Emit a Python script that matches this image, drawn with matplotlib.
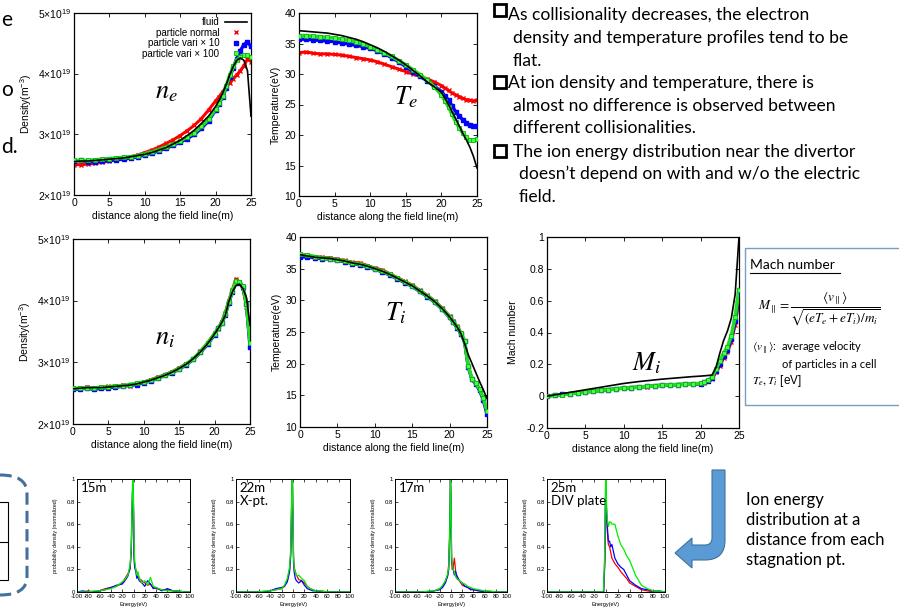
import numpy as np
import matplotlib
matplotlib.use("Agg")
import matplotlib.pyplot as plt
from matplotlib.path import Path
from matplotlib.patches import PathPatch, Rectangle, FancyBboxPatch
from matplotlib.lines import Line2D

plt.rcParams['font.family'] = ['Liberation Sans', 'DejaVu Sans']
plt.rcParams['mathtext.fontset'] = 'stix'
plt.rcParams['axes.unicode_minus'] = False

W, H = 899, 607

# distance along the field line (m)
x_prof = [0, 1, 2, 3, 4, 5, 6, 7, 8, 9, 10, 11, 12, 13, 14, 15, 16, 17, 18, 19,
          20, 20.5, 21, 21.5, 22, 22.5, 23, 23.5, 24, 24.5, 25]

# electron density (1e19 m^-3)
ne_fluid = [2.55, 2.56, 2.56, 2.57, 2.58, 2.59, 2.6, 2.61, 2.63, 2.65, 2.67, 2.7, 2.74, 2.78, 2.84, 2.9,
            2.98, 3.07, 3.18, 3.3, 3.46, 3.56, 3.68, 3.82, 3.98, 4.12, 4.22, 4.26, 4.22, 4.05, 3.3]
ne_normal = [2.5, 2.5, 2.51, 2.52, 2.54, 2.56, 2.58, 2.61, 2.63, 2.66, 2.7, 2.74, 2.79, 2.85, 2.91, 2.98,
             3.06, 3.15, 3.26, 3.4, 3.55, 3.62, 3.7, 3.78, 3.85, 3.92, 3.98, 4.05, 4.13, 4.24, 4.2]
ne_x10 = [2.56, 2.57, 2.55, 2.55, 2.56, 2.57, 2.58, 2.59, 2.61, 2.63, 2.66, 2.69, 2.73, 2.77, 2.82, 2.87,
          2.93, 3.0, 3.1, 3.22, 3.4, 3.5, 3.62, 3.77, 3.94, 4.1, 4.25, 4.38, 4.48, 4.52, 4.45]
ne_x100 = [2.57, 2.57, 2.57, 2.58, 2.59, 2.6, 2.61, 2.62, 2.63, 2.65, 2.68, 2.71, 2.75, 2.79, 2.84, 2.89,
           2.96, 3.03, 3.13, 3.25, 3.42, 3.52, 3.64, 3.8, 3.97, 4.12, 4.22, 4.28, 4.3, 4.3, 4.27]

# electron temperature (eV)
Te_fluid = [37.1, 37.0, 36.9, 36.8, 36.7, 36.5, 36.3, 36.0, 35.7, 35.3, 34.8, 34.3, 33.7, 33.0, 32.3, 31.5,
            30.6, 29.7, 28.7, 27.9, 27.0, 26.0, 25.0, 23.8, 22.7, 21.5, 20.3, 19.2, 18.0, 16.5, 14.6]
Te_normal = [33.5, 33.6, 33.4, 33.3, 33.3, 33.2, 33.1, 32.9, 32.7, 32.5, 32.3, 32.0, 31.6, 31.2, 30.8, 30.4,
             30.0, 29.6, 29.2, 28.7, 28.1, 27.7, 27.3, 26.9, 26.6, 26.3, 26.0, 25.8, 25.7, 25.6, 25.7]
Te_x10 = [35.7, 35.7, 35.6, 35.5, 35.4, 35.3, 35.1, 34.9, 34.7, 34.5, 34.2, 33.8, 33.3, 32.7, 32.0, 31.2,
          30.4, 29.6, 28.9, 28.0, 27.1, 26.4, 25.7, 24.8, 23.8, 23.1, 22.5, 22.0, 21.6, 21.4, 21.4]
Te_x100 = [36.3, 36.3, 36.2, 36.1, 36.0, 35.9, 35.7, 35.5, 35.3, 34.9, 34.5, 34.0, 33.5, 32.9, 32.2, 31.5,
           30.7, 29.9, 29.0, 27.9, 26.6, 25.6, 24.6, 23.4, 22.2, 21.2, 20.3, 19.6, 19.1, 19.1, 19.3]

# ion density (1e19 m^-3)
ni_fluid = [2.57, 2.58, 2.59, 2.59, 2.59, 2.6, 2.61, 2.62, 2.63, 2.65, 2.68, 2.71, 2.75, 2.79, 2.84, 2.9,
            2.97, 3.06, 3.17, 3.3, 3.46, 3.55, 3.64, 3.76, 3.98, 4.14, 4.24, 4.27, 4.2, 4.05, 3.6]
ni_normal = [2.56, 2.58, 2.6, 2.57, 2.59, 2.61, 2.6, 2.63, 2.62, 2.66, 2.68, 2.72, 2.76, 2.8, 2.85, 2.91,
             2.98, 3.05, 3.18, 3.31, 3.47, 3.54, 3.66, 3.8, 4.0, 4.17, 4.35, 4.3, 4.2, 3.9, 3.3]
ni_x10 = [2.56, 2.57, 2.58, 2.56, 2.58, 2.59, 2.6, 2.61, 2.63, 2.64, 2.67, 2.7, 2.74, 2.79, 2.83, 2.89,
          2.96, 3.05, 3.16, 3.29, 3.45, 3.55, 3.63, 3.77, 3.96, 4.14, 4.3, 4.29, 4.22, 3.95, 3.25]
ni_x100 = [2.58, 2.58, 2.59, 2.58, 2.6, 2.6, 2.62, 2.62, 2.64, 2.66, 2.68, 2.71, 2.75, 2.79, 2.84, 2.9,
           2.97, 3.06, 3.17, 3.31, 3.46, 3.56, 3.64, 3.78, 3.98, 4.15, 4.32, 4.31, 4.23, 3.95, 3.32]

# ion temperature (eV)
Ti_fluid = [37.2, 37.0, 36.8, 36.7, 36.6, 36.4, 36.2, 35.9, 35.7, 35.4, 35.0, 34.6, 34.1, 33.5, 32.9, 32.3,
            31.5, 30.7, 29.8, 28.7, 27.4, 26.6, 25.8, 24.8, 23.2, 21.4, 20.0, 18.6, 17.2, 15.9, 14.5]
Ti_normal = [37.0, 37.1, 36.9, 36.8, 36.7, 36.5, 36.3, 36.0, 35.9, 35.5, 35.1, 34.8, 34.2, 33.6, 33.0, 32.4,
             31.6, 30.8, 29.9, 28.8, 27.5, 26.7, 25.9, 24.9, 23.5, 19.5, 17.5, 16.8, 15.9, 14.4, 12.3]
Ti_x10 = [36.8, 36.9, 36.7, 36.6, 36.5, 36.3, 36.1, 35.8, 35.6, 35.3, 34.9, 34.5, 34.0, 33.4, 32.8, 32.2,
          31.4, 30.6, 29.7, 28.6, 27.3, 26.5, 25.7, 24.7, 23.5, 19.4, 17.5, 16.8, 15.8, 14.3, 12.0]
Ti_x100 = [37.3, 37.1, 36.9, 36.7, 36.6, 36.4, 36.2, 35.9, 35.7, 35.4, 35.0, 34.6, 34.1, 33.5, 32.9, 32.3,
           31.5, 30.7, 29.8, 28.7, 27.4, 26.6, 25.8, 24.8, 23.6, 19.6, 17.6, 16.9, 16.0, 14.6, 12.5]

# Mach number
Mi_fluid = [0.0, 0.008, 0.016, 0.024, 0.032, 0.04, 0.048, 0.056, 0.064, 0.072, 0.08, 0.086, 0.092, 0.097,
            0.102, 0.107, 0.111, 0.115, 0.119, 0.123, 0.126, 0.128, 0.13, 0.133, 0.18, 0.27, 0.35, 0.41,
            0.49, 0.64, 1.0]
Mi_normal = [0.0, 0.006, 0.01, 0.016, 0.02, 0.026, 0.03, 0.036, 0.04, 0.046, 0.05, 0.053, 0.056, 0.06, 0.064,
             0.068, 0.07, 0.072, 0.074, 0.075, 0.075, 0.085, 0.095, 0.11, 0.15, 0.19, 0.24, 0.28, 0.34,
             0.45, 0.61]
Mi_x10 = [0.0, 0.006, 0.011, 0.016, 0.021, 0.027, 0.031, 0.036, 0.041, 0.046, 0.051, 0.054, 0.057, 0.061,
          0.065, 0.069, 0.071, 0.073, 0.075, 0.077, 0.079, 0.088, 0.098, 0.115, 0.16, 0.2, 0.25, 0.29, 0.36,
          0.47, 0.64]
Mi_x100 = [0.0, 0.005, 0.01, 0.015, 0.021, 0.027, 0.031, 0.036, 0.041, 0.046, 0.051, 0.054, 0.057, 0.061,
           0.065, 0.069, 0.071, 0.073, 0.075, 0.077, 0.08, 0.09, 0.1, 0.12, 0.17, 0.22, 0.27, 0.31, 0.38,
           0.5, 0.67]

# ion energy distributions (normalized)
E = [-100, -90, -80, -70, -60, -50, -40, -30, -20, -15, -10, -6, -4, -2, -1, 0, 1, 2, 4, 6, 8, 10,
     15, 20, 25, 30, 35, 40, 50, 60, 70, 80, 90, 100]
f15_normal = [0, 0, 0.01, 0, 0.01, 0.03, 0.04, 0.05, 0.08, 0.12, 0.16, 0.2, 0.35, 0.8, 1.0, 0.7, 0.35, 0.25,
              0.2, 0.17, 0.15, 0.12, 0.1, 0.08, 0.06, 0.07, 0.04, 0.03, 0.02, 0.02, 0.01, 0, 0, 0]
f15_x10 = [0, 0.01, 0, 0, 0.01, 0.02, 0.04, 0.06, 0.07, 0.1, 0.14, 0.22, 0.38, 0.85, 1.0, 0.75, 0.3, 0.22,
           0.18, 0.12, 0.14, 0.1, 0.08, 0.05, 0.1, 0.07, 0.03, 0.04, 0.01, 0.03, 0.01, 0.01, 0, 0]
f15_x100 = [0, 0, 0, 0.01, 0.01, 0.02, 0.03, 0.05, 0.09, 0.11, 0.15, 0.24, 0.4, 0.9, 1.05, 0.8, 0.45, 0.28,
            0.2, 0.15, 0.18, 0.12, 0.08, 0.1, 0.06, 0.13, 0.05, 0.04, 0.02, 0.01, 0.01, 0.01, 0, 0]
f22_normal = [0, 0, 0, 0, 0, 0, 0.01, 0.02, 0.03, 0.05, 0.1, 0.2, 0.35, 0.9, 1.0, 0.6, 0.3, 0.22, 0.18,
              0.15, 0.13, 0.11, 0.1, 0.08, 0.05, 0.03, 0.02, 0.01, 0.01, 0, 0, 0, 0, 0]
f22_x10 = [0, 0, 0, 0, 0, 0, 0.01, 0.03, 0.04, 0.05, 0.09, 0.18, 0.32, 0.85, 1.0, 0.55, 0.25, 0.18, 0.12,
           0.1, 0.09, 0.08, 0.1, 0.06, 0.03, 0.02, 0.01, 0.01, 0, 0, 0, 0, 0, 0]
f22_x100 = [0, 0, 0, 0, 0, 0.01, 0.01, 0.02, 0.03, 0.06, 0.12, 0.22, 0.38, 0.95, 1.05, 0.65, 0.3, 0.22,
            0.17, 0.15, 0.14, 0.15, 0.12, 0.1, 0.05, 0.03, 0.02, 0.01, 0.01, 0, 0, 0, 0, 0]
f17_normal = [0, 0, 0, 0, 0, 0, 0, 0.01, 0.03, 0.05, 0.1, 0.15, 0.25, 0.6, 1.0, 0.8, 0.3, 0.2, 0.22, 0.3,
              0.2, 0.12, 0.1, 0.06, 0.05, 0.04, 0.03, 0.02, 0.01, 0.01, 0, 0, 0, 0]
f17_x10 = [0, 0, 0, 0, 0, 0, 0, 0.01, 0.02, 0.04, 0.08, 0.14, 0.2, 0.55, 1.0, 0.85, 0.28, 0.25, 0.2, 0.15,
           0.18, 0.15, 0.1, 0.08, 0.05, 0.04, 0.02, 0.02, 0.01, 0, 0, 0, 0, 0]
f17_x100 = [0, 0, 0, 0, 0, 0, 0.01, 0.01, 0.03, 0.06, 0.1, 0.16, 0.22, 0.6, 1.0, 0.9, 0.35, 0.25, 0.2,
            0.18, 0.14, 0.12, 0.1, 0.08, 0.07, 0.05, 0.04, 0.03, 0.02, 0.01, 0.01, 0, 0, 0]
f25_normal = [0, 0, 0, 0, 0, 0, 0, 0, 0, 0, 0, 0, 0, 0.25, 0.7, 0.9, 0.7, 0.55, 0.42, 0.4, 0.35, 0.3,
              0.25, 0.22, 0.18, 0.15, 0.12, 0.08, 0.05, 0.02, 0.01, 0, 0, 0]
f25_x10 = [0, 0, 0, 0, 0, 0, 0, 0, 0, 0, 0, 0, 0, 0.3, 0.8, 0.95, 0.7, 0.6, 0.45, 0.45, 0.4, 0.42,
           0.3, 0.25, 0.22, 0.2, 0.15, 0.1, 0.06, 0.03, 0.02, 0.01, 0.01, 0]
f25_x100 = [0, 0, 0, 0, 0, 0, 0, 0, 0, 0, 0, 0, 0.02, 0.4, 0.9, 1.05, 0.75, 0.65, 0.58, 0.62, 0.62, 0.6,
            0.6, 0.5, 0.42, 0.38, 0.32, 0.28, 0.15, 0.06, 0.03, 0.01, 0.01, 0]

fig = plt.figure(figsize=(W / 100, H / 100), dpi=100)


def box(l, t, r, b):
    return fig.add_axes([l / W, 1 - b / H, (r - l) / W, (b - t) / H])


def style(ax, fs=7.5):
    ax.tick_params(direction='in', top=True, right=True, length=3, width=0.6, labelsize=fs, pad=2)
    for s in ax.spines.values():
        s.set_linewidth(0.9)


def profile(ax, fluid, normal, x10, x100):
    ax.plot(x_prof, fluid, color='black', lw=1.2, zorder=5)
    ax.plot(x_prof, normal, color='red', lw=2.2, marker='x', ms=2.5, mew=1, zorder=2)
    ax.plot(x_prof, x10, color='blue', lw=2.4, marker='s', ms=2.5, zorder=3)
    ax.plot(x_prof, x100, color='#22dd22', lw=2.6, marker='s', ms=3, mfc='#44ff44',
            mec='#10b010', mew=0.6, zorder=4)
    ax.set_xlim(0, 25)
    ax.set_xticks([0, 5, 10, 15, 20, 25])
    ax.set_xlabel('distance along the field line(m)', fontsize=7.5, labelpad=2)
    style(ax)


def sci(v):
    return '%d\u00d710$^{\\mathregular{19}}$' % v


# n_e
ax = box(74, 13, 251, 195)
profile(ax, ne_fluid, ne_normal, ne_x10, ne_x100)
ax.set_ylim(2, 5)
ax.set_yticks([2, 3, 4, 5])
ax.set_yticklabels([sci(v) for v in [2, 3, 4, 5]])
ax.set_ylabel('Density(m$^{\\mathregular{-3}}$)', fontsize=7.5, labelpad=3)
ax.text(0.52, 0.53, r'$n_e$', transform=ax.transAxes, fontsize=19, ha='center')
hl = [Line2D([], [], color='black', lw=1.2),
      Line2D([], [], color='red', ls='none', marker='x', ms=2.5, mew=1),
      Line2D([], [], color='blue', ls='none', marker='s', ms=2.5),
      Line2D([], [], color='#22dd22', ls='none', marker='s', ms=3, mfc='#44ff44', mec='#10b010', mew=0.6)]
ax.legend(hl, ['fluid', 'particle normal', 'particle vari \u00d7 10', 'particle vari \u00d7 100'],
          loc='upper right', markerfirst=False, frameon=False, fontsize=7, handlelength=2.2,
          labelspacing=0.05, borderaxespad=0.05, handletextpad=0.6)

# T_e
ax = box(299, 13, 477, 196)
profile(ax, Te_fluid, Te_normal, Te_x10, Te_x100)
ax.set_ylim(10, 40)
ax.set_ylabel('Temperature(eV)', fontsize=7.5, labelpad=3)
ax.text(0.6, 0.5, r'$T_e$', transform=ax.transAxes, fontsize=19, ha='center')

# n_i
ax = box(73, 239, 250, 424)
profile(ax, ni_fluid, ni_normal, ni_x10, ni_x100)
ax.set_ylim(2, 5)
ax.set_yticks([2, 3, 4, 5])
ax.set_yticklabels([sci(v) for v in [2, 3, 4, 5]])
ax.set_ylabel('Density(m$^{\\mathregular{-3}}$)', fontsize=7.5, labelpad=3)
ax.text(0.52, 0.43, r'$n_i$', transform=ax.transAxes, fontsize=19, ha='center')

# T_i
ax = box(300, 237, 487, 427)
profile(ax, Ti_fluid, Ti_normal, Ti_x10, Ti_x100)
ax.set_ylim(10, 40)
ax.set_ylabel('Temperature(eV)', fontsize=7.5, labelpad=3)
ax.text(0.51, 0.56, r'$T_i$', transform=ax.transAxes, fontsize=19, ha='center')

# M_i
ax = box(547, 237, 739, 428)
profile(ax, Mi_fluid, Mi_normal, Mi_x10, Mi_x100)
ax.set_ylim(-0.2, 1)
ax.set_yticks([-0.2, 0, 0.2, 0.4, 0.6, 0.8, 1])
ax.set_yticklabels(['-0.2', '0', '0.2', '0.4', '0.6', '0.8', '1'])
ax.set_ylabel('Mach number', fontsize=7.5, labelpad=6)
ax.text(0.52, 0.3, r'$M_i$', transform=ax.transAxes, fontsize=19, ha='center')

# ion energy distributions
panels = [((77, 479, 190, 592), f15_normal, f15_x10, f15_x100, '15m'),
          ((236, 479, 350, 592), f22_normal, f22_x10, f22_x100, '22m\nX-pt.'),
          ((395, 479, 507, 592), f17_normal, f17_x10, f17_x100, '17m'),
          ((547, 479, 665, 592), f25_normal, f25_x10, f25_x100, '25m\nDIV plate')]
for (l, t, r, b), fr, fb, fg, name in panels:
    ax = box(l, t, r, b)
    ax.plot(E, fr, color='red', lw=0.9)
    ax.plot(E, fb, color='blue', lw=0.9)
    ax.plot(E, fg, color='#00ee00', lw=0.9)
    ax.set_xlim(-100, 100)
    ax.set_ylim(0, 1)
    ax.set_xticks([-100, -80, -60, -40, -20, 0, 20, 40, 60, 80, 100])
    ax.set_yticks([0, 0.2, 0.4, 0.6, 0.8, 1])
    ax.set_yticklabels(['0', '0.2', '0.4', '0.6', '0.8', '1'])
    ax.tick_params(direction='in', top=True, right=True, length=2, width=0.5, labelsize=4.3, pad=1.5)
    for s in ax.spines.values():
        s.set_linewidth(0.7)
    ax.set_ylabel('probability density (normalized)', fontsize=3.8, labelpad=6)
    ax.set_xlabel('Energy(eV)', fontsize=4, labelpad=2)
    ax.text(0.03, 0.97, name, transform=ax.transAxes, va='top', ha='left', fontsize=9.5,
            family='Lato', linespacing=1.1)

# bullet text
lines = [(508, 15, 'As collisionality decreases, the electron'),
         (513, 38, 'density and temperature profiles tend to be'),
         (513, 61, 'flat.'),
         (508, 83, 'At ion density and temperature, there is'),
         (513, 106, 'almost no difference is observed between'),
         (513, 128, 'different collisionalities.'),
         (513, 152, 'The ion energy distribution near the divertor'),
         (519, 174, 'doesn\u2019t depend on with and w/o the electric'),
         (519, 197, 'field.')]
for x, y, s in lines:
    fig.text(x / W, 1 - y / H, s, fontsize=12.6, family='Lato', va='center', ha='left')
for y in [10, 82, 151]:
    fig.patches.append(Rectangle((494 / W, 1 - (y + 6) / H), 12 / W, 12 / H, transform=fig.transFigure,
                                 fill=False, lw=2, ec='black'))

# partial text at left edge
for y, s in [(20, 'e'), (90, 'o'), (147, 'd.')]:
    fig.text(1 / W, 1 - y / H, s, fontsize=15, family='Lato', ha='left', va='center')

# Mach number box
fig.patches.append(Rectangle((745 / W, 1 - 405 / H), 160 / W, 157 / H, transform=fig.transFigure,
                             fill=False, lw=1, ec='#7a9cc0'))
fig.text(750 / W, 1 - 265 / H, 'Mach number', fontsize=10, family='Lato', va='center')
fig.lines.append(Line2D([750 / W, 840 / W], [1 - 273 / H, 1 - 273 / H], transform=fig.transFigure,
                        color='black', lw=0.8))
fig.text(819 / W, 1 - 309 / H,
         r'$M_\parallel = \dfrac{\langle v_\parallel\rangle}{\sqrt{(eT_e+eT_i)/m_i}}$',
         fontsize=9.5, ha='center', va='center')
fig.text(752 / W, 1 - 347 / H, r'$\langle v_\parallel\rangle$:  average velocity', fontsize=8,
         family='Lato', va='center')
fig.text(782 / W, 1 - 364 / H, 'of particles in a cell', fontsize=8, family='Lato', va='center')
fig.text(752 / W, 1 - 381 / H, r'$T_e, T_i$ [eV]', fontsize=8.5, va='center')

# bent arrow
pts = [(712, 470), (725, 470), (725, 540), (725, 560), (705, 560), (692, 560), (692, 568), (675, 553),
       (692, 538), (692, 545), (705, 545), (712, 545), (712, 538), (712, 470)]
codes = [Path.MOVETO, Path.LINETO, Path.LINETO, Path.CURVE3, Path.CURVE3, Path.LINETO, Path.LINETO,
         Path.LINETO, Path.LINETO, Path.LINETO, Path.LINETO, Path.CURVE3, Path.CURVE3, Path.CLOSEPOLY]
verts = [(px / W, 1 - py / H) for px, py in pts]
fig.patches.append(PathPatch(Path(verts, codes), transform=fig.transFigure, fc='#5b9bd5', ec='#41719c',
                             lw=0.8))
fig.text(746 / W, 1 - 492 / H, 'Ion energy\ndistribution at a\ndistance from each\nstagnation pt.',
         fontsize=12, family='Lato', va='top', ha='left', linespacing=1.3)

# dashed box at bottom left
fig.patches.append(FancyBboxPatch((-30 / W, 1 - 595 / H), 57 / W, 120 / H,
                                  boxstyle='round,pad=0,rounding_size=0.03', transform=fig.transFigure,
                                  fill=False, ec='#41719c', lw=2.2, ls=(0, (4, 2))))
fig.patches.append(Rectangle((-5 / W, 1 - 580 / H), 13 / W, 78 / H, transform=fig.transFigure,
                             fill=False, ec='black', lw=0.8))
fig.lines.append(Line2D([0, 8 / W], [1 - 542 / H, 1 - 542 / H], transform=fig.transFigure, color='black',
                        lw=0.8))

fig.savefig('out.png', dpi=100)
